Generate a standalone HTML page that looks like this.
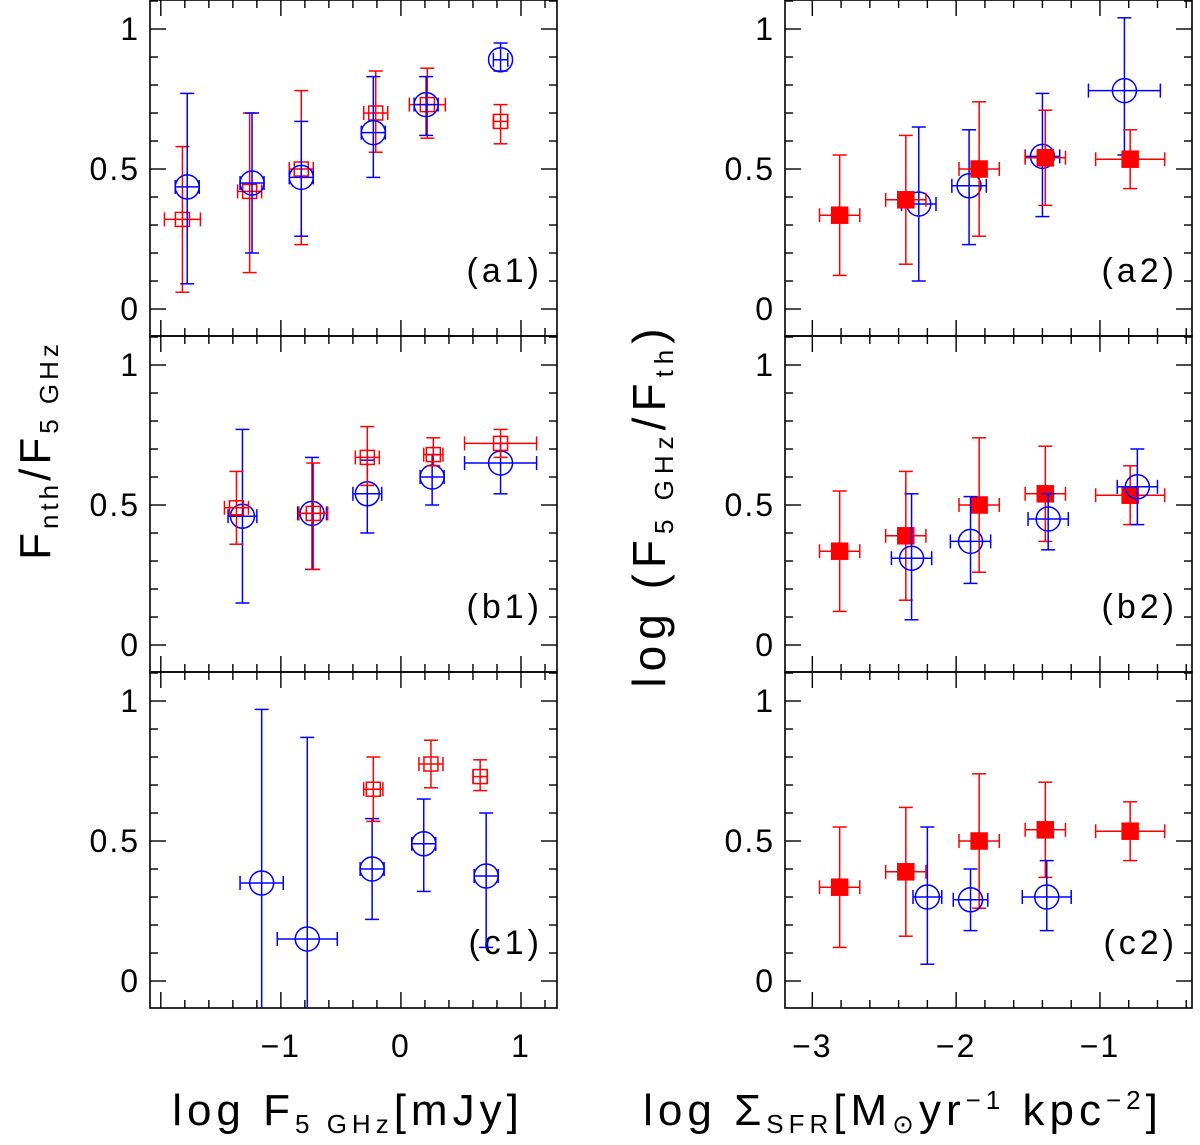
<!DOCTYPE html>
<html><head><meta charset="utf-8"><style>
body{margin:0;background:#fff;}
svg{display:block;font-family:"Liberation Sans",sans-serif;}
</style></head><body>
<svg id="chart" width="1200" height="1145" viewBox="0 0 1200 1145" xmlns="http://www.w3.org/2000/svg">
<text x="348" y="1125" font-size="44" letter-spacing="5" text-anchor="middle" fill="#000">log  F<tspan font-size="26" dy="8">5 GHz</tspan><tspan dy="-8">[mJy]</tspan></text>
<text x="903" y="1125" font-size="44" letter-spacing="5" text-anchor="middle" fill="#000">log  Σ<tspan font-size="26" dy="8">SFR</tspan><tspan dy="-8">[M</tspan><tspan font-size="26" dy="8">⊙</tspan><tspan dy="-8">yr</tspan><tspan font-size="26" dy="-16">−1</tspan><tspan dy="16">  kpc</tspan><tspan font-size="26" dy="-16">−2</tspan><tspan dy="16">]</tspan></text>
<text transform="translate(50,450) rotate(-90)" font-size="44" letter-spacing="4" text-anchor="middle" fill="#000">F<tspan font-size="26" dy="8">nth</tspan><tspan dy="-8">/F</tspan><tspan font-size="26" dy="8">5 GHz</tspan></text>
<text transform="translate(665,505) rotate(-90)" font-size="46" letter-spacing="6" text-anchor="middle" fill="#000">log (F<tspan font-size="26" dy="8">5 GHz</tspan><tspan dy="-8">/F</tspan><tspan font-size="26" dy="8">th</tspan><tspan dy="-8">)</tspan></text>
</svg>
<script>
// x-values, y-values, y upper/lower error bounds, x half-error
const a1BlueX=[-1.78,-1.24,-0.83,-0.23,0.21,0.83];
const a1BlueY=[0.436,0.45,0.47,0.63,0.73,0.89];
const a1BlueHi=[0.77,0.70,0.67,0.83,0.83,0.95];
const a1BlueLo=[0.09,0.2,0.26,0.47,0.62,0.85];
const a1BlueXe=[0.1,0.1,0.1,0.1,0.1,0.06];
const a1RedX=[-1.82,-1.26,-0.83,-0.21,0.22,0.83];
const a1RedY=[0.32,0.42,0.5,0.7,0.73,0.67];
const a1RedHi=[0.58,0.70,0.78,0.85,0.86,0.73];
const a1RedLo=[0.06,0.13,0.23,0.56,0.61,0.59];
const a1RedXe=[0.15,0.1,0.1,0.1,0.15,0.06];
const b1BlueX=[-1.32,-0.74,-0.28,0.26,0.83];
const b1BlueY=[0.46,0.47,0.54,0.6,0.65];
const b1BlueHi=[0.77,0.67,0.66,0.68,0.72];
const b1BlueLo=[0.15,0.27,0.40,0.5,0.54];
const b1BlueXe=[0.12,0.12,0.12,0.1,0.3];
const b1RedX=[-1.37,-0.73,-0.28,0.27,0.83];
const b1RedY=[0.49,0.47,0.67,0.68,0.72];
const b1RedHi=[0.62,0.65,0.78,0.74,0.77];
const b1RedLo=[0.36,0.27,0.57,0.64,0.67];
const b1RedXe=[0.1,0.12,0.1,0.08,0.3];
const c1BlueX=[-1.16,-0.78,-0.24,0.19,0.71];
const c1BlueY=[0.35,0.15,0.4,0.49,0.375];
const c1BlueHi=[0.97,0.87,0.58,0.65,0.6];
const c1BlueLo=[-0.2,-0.2,0.22,0.32,0.12];
const c1BlueXe=[0.18,0.25,0.1,0.1,0.1];
const c1RedX=[-0.23,0.25,0.66];
const c1RedY=[0.685,0.775,0.73];
const c1RedHi=[0.8,0.86,0.79];
const c1RedLo=[0.57,0.69,0.68];
const c1RedXe=[0.08,0.1,0.06];
const redSfrX=[-2.81,-2.35,-1.84,-1.38,-0.79];
const redSfrY=[0.335,0.39,0.5,0.54,0.535];
const redSfrHi=[0.55,0.62,0.74,0.71,0.64];
const redSfrLo=[0.12,0.16,0.26,0.37,0.43];
const redSfrXe=[0.14,0.14,0.14,0.14,0.24];
const a2BlueX=[-2.26,-1.91,-1.4,-0.83];
const a2BlueY=[0.375,0.44,0.545,0.78];
const a2BlueHi=[0.65,0.64,0.77,1.04];
const a2BlueLo=[0.1,0.23,0.33,0.55];
const a2BlueXe=[0.12,0.12,0.12,0.25];
const b2BlueX=[-2.31,-1.9,-1.36,-0.74];
const b2BlueY=[0.31,0.37,0.45,0.565];
const b2BlueHi=[0.54,0.53,0.54,0.70];
const b2BlueLo=[0.09,0.22,0.34,0.43];
const b2BlueXe=[0.14,0.14,0.14,0.14];
const c2BlueX=[-2.2,-1.9,-1.37];
const c2BlueY=[0.3,0.29,0.3];
const c2BlueHi=[0.55,0.4,0.43];
const c2BlueLo=[0.06,0.18,0.18];
const c2BlueXe=[0.1,0.12,0.17];
const yTickLabels=["0","0.5","1"];
const leftXTickLabels=["−1","0","1"];
const rightXTickLabels=["−3","−2","−1"];

const NS="http://www.w3.org/2000/svg";
const svg=document.getElementById('chart');
function mk(tag,attrs,parent){const e=document.createElementNS(NS,tag);for(const k in attrs)e.setAttribute(k,attrs[k]);(parent||svg).appendChild(e);return e;}
const rowsTop=[0,336,672];
const cols=[{x0:150,x1:557,vmin:-2.09,vmax:1.3,major:[-1,0,1],labels:leftXTickLabels,minorStart:-2.0,minorEnd:1.3},
            {x0:785,x1:1192,vmin:-3.19,vmax:-0.36,major:[-3,-2,-1],labels:rightXTickLabels,minorStart:-3.2,minorEnd:-0.36}];
const ymin=-0.0964,ymax=1.1036;
function panel(ci,ri,name,label,series){
  const c=cols[ci],top=rowsTop[ri],bot=top+336;
  const g=mk('g',{});
  
  
  const sx=v=>c.x0+(v-c.vmin)/(c.vmax-c.vmin)*(c.x1-c.x0);
  const sy=v=>bot-(v-ymin)/(ymax-ymin)*336;
  const r=mk('rect',{x:c.x0,y:top,width:c.x1-c.x0,height:336,fill:'none',stroke:'#000','stroke-width':1.6},g);
  
  
  for(let v=Math.round(c.minorStart*10);v<=c.minorEnd*10;v+=2){const val=v/10;const x=sx(val);if(x<c.x0||x>c.x1)continue;
    const maj=Math.abs(val-Math.round(val))<1e-6;const L=maj?16:8;
    mk('line',{x1:x,x2:x,y1:bot,y2:bot-L,stroke:'#000','stroke-width':1.4},g);
    mk('line',{x1:x,x2:x,y1:top,y2:top+L,stroke:'#000','stroke-width':1.4},g);}
  for(let v=0;v<=11;v++){const val=v/10;const y=sy(val);const maj=v%5==0;const L=maj?16:8;
    mk('line',{x1:c.x0,x2:c.x0+L,y1:y,y2:y,stroke:'#000','stroke-width':1.4},g);
    mk('line',{x1:c.x1,x2:c.x1-L,y1:y,y2:y,stroke:'#000','stroke-width':1.4},g);}
  [0,0.5,1].forEach((v,i)=>{const t=mk('text',{x:c.x0-10,y:sy(v)+11,'font-size':32,'letter-spacing':2,'text-anchor':'end',fill:'#000'},g);t.textContent=yTickLabels[i];
    
    });
  if(ri==2){c.major.forEach((v,i)=>{const t=mk('text',{x:sx(v),y:1057,'font-size':32,'letter-spacing':2,'text-anchor':'middle',fill:'#000'},g);t.textContent=c.labels[i];
    
    });}
  const lt=mk('text',{x:c.x1-14,y:bot-54,'font-size':34,'letter-spacing':4,'text-anchor':'end',fill:'#000'},g);lt.textContent=label;
  
  
  series.forEach(s=>{
    for(let i=0;i<s.x.length;i++){
      const col=s.col,px=sx(s.x[i]),py=sy(s.y[i]);
      const pg=mk('g',{stroke:col,'stroke-width':1.5,fill:'none'},g);
      
      
      const hi=Math.max(sy(s.hi[i]),top),lo=Math.min(sy(s.lo[i]),bot);
      const xl=sx(s.x[i]-s.xe[i]),xr=sx(s.x[i]+s.xe[i]);
      mk('line',{x1:px,x2:px,y1:hi,y2:lo},pg);
      mk('line',{x1:xl,x2:xr,y1:py,y2:py},pg);
      if(sy(s.hi[i])>=top)mk('line',{x1:px-7,x2:px+7,y1:hi,y2:hi},pg);
      if(sy(s.lo[i])<=bot)mk('line',{x1:px-7,x2:px+7,y1:lo,y2:lo},pg);
      mk('line',{x1:xl,x2:xl,y1:py-7,y2:py+7},pg);
      mk('line',{x1:xr,x2:xr,y1:py-7,y2:py+7},pg);
      if(s.shape=='circle')mk('circle',{cx:px,cy:py,r:12},pg);
      else if(s.shape=='square')mk('rect',{x:px-7,y:py-7,width:14,height:14},pg);
      else mk('rect',{x:px-8,y:py-8,width:16,height:16,fill:col},pg);
    }
  });
}
const B='#0000ff',R='#ff0000';
panel(0,0,'panel-a1','(a1)',[
 {x:a1RedX,y:a1RedY,hi:a1RedHi,lo:a1RedLo,xe:a1RedXe,col:R,shape:'square',name:'red-square-point'},
 {x:a1BlueX,y:a1BlueY,hi:a1BlueHi,lo:a1BlueLo,xe:a1BlueXe,col:B,shape:'circle',name:'blue-circle-point'}]);
panel(0,1,'panel-b1','(b1)',[
 {x:b1BlueX,y:b1BlueY,hi:b1BlueHi,lo:b1BlueLo,xe:b1BlueXe,col:B,shape:'circle',name:'blue-circle-point'},
 {x:b1RedX,y:b1RedY,hi:b1RedHi,lo:b1RedLo,xe:b1RedXe,col:R,shape:'square',name:'red-square-point'}]);
panel(0,2,'panel-c1','(c1)',[
 {x:c1BlueX,y:c1BlueY,hi:c1BlueHi,lo:c1BlueLo,xe:c1BlueXe,col:B,shape:'circle',name:'blue-circle-point'},
 {x:c1RedX,y:c1RedY,hi:c1RedHi,lo:c1RedLo,xe:c1RedXe,col:R,shape:'square',name:'red-square-point'}]);
panel(1,0,'panel-a2','(a2)',[
 {x:a2BlueX,y:a2BlueY,hi:a2BlueHi,lo:a2BlueLo,xe:a2BlueXe,col:B,shape:'circle',name:'blue-circle-point'},
 {x:redSfrX,y:redSfrY,hi:redSfrHi,lo:redSfrLo,xe:redSfrXe,col:R,shape:'filled',name:'red-filled-square-point'}]);
panel(1,1,'panel-b2','(b2)',[
 {x:redSfrX,y:redSfrY,hi:redSfrHi,lo:redSfrLo,xe:redSfrXe,col:R,shape:'filled',name:'red-filled-square-point'},
 {x:b2BlueX,y:b2BlueY,hi:b2BlueHi,lo:b2BlueLo,xe:b2BlueXe,col:B,shape:'circle',name:'blue-circle-point'}]);
panel(1,2,'panel-c2','(c2)',[
 {x:redSfrX,y:redSfrY,hi:redSfrHi,lo:redSfrLo,xe:redSfrXe,col:R,shape:'filled',name:'red-filled-square-point'},
 {x:c2BlueX,y:c2BlueY,hi:c2BlueHi,lo:c2BlueLo,xe:c2BlueXe,col:B,shape:'circle',name:'blue-circle-point'}]);
</script>
</body></html>
